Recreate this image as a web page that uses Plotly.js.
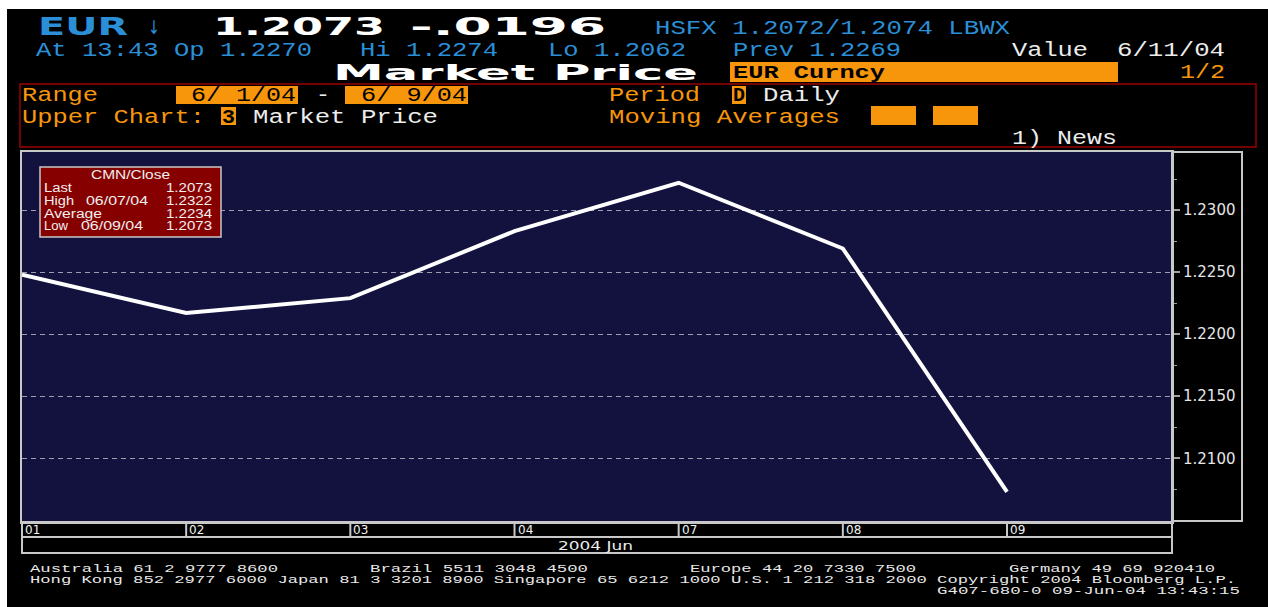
<!DOCTYPE html>
<html><head><meta charset="utf-8">
<script src="https://cdn.plot.ly/plotly-3.0.1.min.js"></script>
<style>
body{margin:0;background:#fff;width:1268px;height:607px;overflow:hidden;position:relative}
#bg{position:absolute;left:7px;top:9px;width:1261px;height:598px;background:#000}
#chart{position:absolute;left:0;top:0;width:1268px;height:607px}
#ov{position:absolute;left:0;top:0;pointer-events:none}
</style></head>
<body>
<div id="bg"></div>
<div id="chart"></div>
<svg id="ov" width="1268" height="607" xmlns="http://www.w3.org/2000/svg"></svg>
<script>
// ---- data ----
const dates = ['01', '02', '03', '04', '07', '08', '09'];
const closes = [1.2248, 1.2217, 1.2229, 1.2283, 1.2322, 1.2269, 1.2073];
const yTicks = [1.2100, 1.2150, 1.2200, 1.2250, 1.2300];
const monthLabel = '2004 Jun';
const statTitle = 'CMN/Close';
const statLabels = ['Last', 'High', 'Average', 'Low'];
const statDates = ['', '06/07/04', '', '06/09/04'];
const statValues = ['1.2073', '1.2322', '1.2234', '1.2073'];

// ---- chart ----
const plotTop = 152, plotBottom = 522, plotH = plotBottom - plotTop;
const rowBottom = 537;

// category axes: shapes/annotations use the category serial number
const shapes = dates.map((d, i) => ({
  type: 'line', xref: 'x', yref: 'paper', x0: i, x1: i,
  y0: 0, y1: -(rowBottom - plotBottom) / plotH,
  line: {color: '#c8c8c8', width: 2}
}));

const annotations = dates.map((d, i) => ({
  xref: 'x', yref: 'paper', x: i, y: -(530 - plotBottom) / plotH,
  text: d, showarrow: false, xanchor: 'left', yanchor: 'middle', xshift: 1,
  font: {family: 'DejaVu Sans', size: 12, color: '#f0f0f0'}
}));

const trace = {
  x: dates, y: closes, type: 'scatter', mode: 'lines',
  line: {color: '#ffffff', width: 4}, hoverinfo: 'skip'
};

const layout = {
  width: 1268, height: 607,
  margin: {l: 22, r: 96, t: plotTop, b: 607 - plotBottom, pad: 0},
  paper_bgcolor: 'rgba(0,0,0,0)', plot_bgcolor: '#13123f',
  showlegend: false,
  xaxis: {
    type: 'category', range: [0, 7.005], showgrid: false, zeroline: false,
    showline: true, mirror: true, linecolor: '#c8c8c8', linewidth: 2,
    ticks: '', showticklabels: false, fixedrange: true
  },
  yaxis: {
    side: 'right', range: [1.204863, 1.234677],
    tickmode: 'array', tickvals: yTicks, tickformat: '.4f',
    ticks: 'outside', ticklen: 6, tickwidth: 2, tickcolor: '#a0a0a0',
    showgrid: true, gridcolor: '#9c9cae', gridwidth: 1, griddash: '5px,4px',
    zeroline: false, showline: true, mirror: true, linecolor: '#c8c8c8', linewidth: 2,
    tickfont: {family: 'DejaVu Sans', size: 15, color: '#e6e6e6'},
    minor: {tick0: 1.2100, dtick: 0.0025, ticks: 'outside', ticklen: 3, tickwidth: 1, tickcolor: '#a0a0a0', showgrid: false},
    fixedrange: true
  },
  shapes: shapes,
  annotations: annotations
};

Plotly.newPlot('chart', [trace], layout, {staticPlot: true});

// ---- terminal chrome overlay ----
const NS = 'http://www.w3.org/2000/svg';
const ov = document.getElementById('ov');
function el(tag, attrs) {
  const e = document.createElementNS(NS, tag);
  for (const k in attrs) e.setAttribute(k, attrs[k]);
  ov.appendChild(e);
  return e;
}
function rect(x, y, w, h, fill, stroke, sw) {
  return el('rect', {x, y, width: w, height: h, fill: fill || 'none', stroke: stroke || 'none', 'stroke-width': sw || 0});
}
function line(x1, y1, x2, y2, stroke, sw) {
  return el('line', {x1, y1, x2, y2, stroke, 'stroke-width': sw});
}
const MONO = 'Liberation Mono', SANS = 'DejaVu Sans', ARIAL = 'Liberation Sans';
function T(txt, x, y, w, size, color, family, weight, anchor) {
  const t = el('text', {
    x, y, 'font-family': family || MONO, 'font-size': size, fill: color,
    'font-weight': weight || 'normal', 'text-anchor': anchor || 'start',
    textLength: w, lengthAdjust: 'spacingAndGlyphs'
  });
  t.setAttribute('xml:space', 'preserve');
  t.style.whiteSpace = 'pre';
  t.textContent = txt;
  return t;
}
const BLUE = '#2a8fd6', ORANGE = '#f7960a', WHITE = '#ececec';

// line 1
T('EUR', 38, 35, 90, 24, BLUE, SANS, 'bold');
T('\u2193', 148, 34, 12, 19, BLUE, SANS);
T('1.2073', 213, 35, 172, 24, '#ffffff', SANS, 'bold');
T('-.0196', 410, 35, 196, 24, '#ffffff', SANS, 'bold');
T('HSFX 1.2072/1.2074 LBWX', 655, 34, 355, 20, BLUE);
// line 2
T('At 13:43 Op 1.2270', 36, 55.5, 276, 19.5, BLUE);
T('Hi 1.2274', 360, 55.5, 138, 19.5, BLUE);
T('Lo 1.2062', 548, 55.5, 138, 19.5, BLUE);
T('Prev 1.2269', 733, 55.5, 168, 19.5, BLUE);
T('Value', 1012, 55.5, 76, 19.5, WHITE);
T('6/11/04', 1117, 55.5, 108, 19.5, WHITE);
// line 3
T('Market Price', 333, 80, 365, 22, '#ffffff', SANS, 'bold');
rect(730, 62, 388, 20, ORANGE);
T('EUR Curncy', 733, 78, 152, 19, '#000000', MONO, 'bold');
T('1/2', 1180, 78, 45, 20, ORANGE);
// red parameter box
rect(20, 84, 1236, 63, 'none', '#9a0000', 1.5);
T('Range', 22, 101, 76, 20, ORANGE);
rect(176, 86, 122, 18, ORANGE);
T('6/ 1/04', 191, 101, 105, 20, '#000000');
T('-', 316, 101, 14, 20, WHITE);
rect(345, 86, 123, 18, ORANGE);
T('6/ 9/04', 361, 101, 106, 20, '#000000');
T('Period', 609, 101, 91, 20, ORANGE);
rect(732, 86, 14, 18, ORANGE);
T('D', 733, 101, 12, 20, '#000000', MONO, 'bold');
T('Daily', 763, 101, 77, 20, WHITE);
T('Upper Chart:', 22, 123, 183, 20, ORANGE);
rect(221, 107, 15, 18, ORANGE);
T('3', 222, 123, 13, 20, '#000000', MONO, 'bold');
T('Market Price', 253, 123, 185, 20, WHITE);
T('Moving Averages', 609, 123, 231, 20, ORANGE);
rect(871, 106, 45, 19, ORANGE);
rect(933, 106, 45, 19, ORANGE);
T('1) News', 1012, 144, 105, 20, WHITE);

// chart frames
rect(1172, 152, 70, 369, 'none', '#c8c8c8', 2);
rect(22, 522, 1150, 31, 'none', '#c8c8c8', 2);
line(22, 537, 1172, 537, '#c8c8c8', 2);
T(monthLabel, 558, 550, 75, 12, WHITE, SANS);

// stats box
rect(40, 167, 181, 70, '#870000', '#c8c8c8', 1.5);
T(statTitle, 91, 179, 79, 12.5, '#f0f0f0', ARIAL);
const rowY = [192, 205, 217.5, 230];
const labW = [28, 30, 58, 24];
const dateX = [0, 86, 0, 81];
statLabels.forEach((lab, i) => {
  T(lab, 44, rowY[i], labW[i], 12.5, '#f0f0f0', ARIAL);
  if (statDates[i]) T(statDates[i], dateX[i], rowY[i], 62, 12.5, '#f0f0f0', ARIAL);
  T(statValues[i], 166, rowY[i], 46, 12.5, '#f0f0f0', ARIAL);
});

// footer
const FW = '#e8e8e8';
T('Australia 61 2 9777 8600', 30, 572, 248, 11, FW);
T('Brazil 5511 3048 4500', 370, 572, 218, 11, FW);
T('Europe 44 20 7330 7500', 690, 572, 226, 11, FW);
T('Germany 49 69 920410', 1009, 572, 206, 11, FW);
T('Hong Kong 852 2977 6000 Japan 81 3 3201 8900 Singapore 65 6212 1000 U.S. 1 212 318 2000 Copyright 2004 Bloomberg L.P.', 30, 583, 1206, 11, FW);
T('G407-680-0 09-Jun-04 13:43:15', 937, 594, 303, 11, FW);
</script>
</body></html>
